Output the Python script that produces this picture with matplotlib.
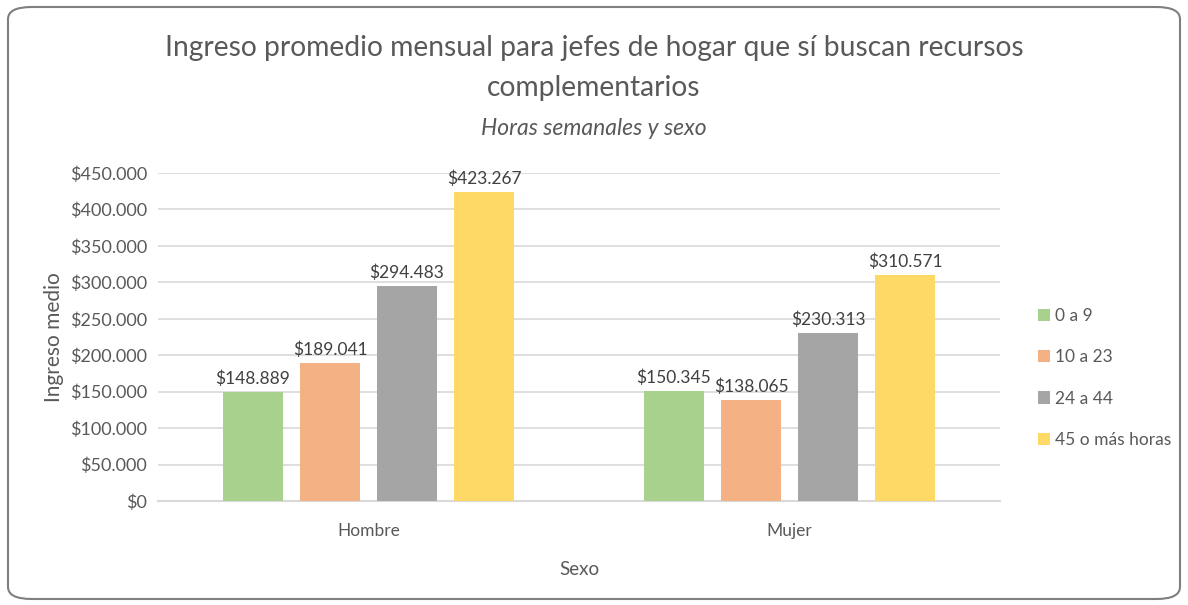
import numpy as np
import matplotlib.pyplot as plt
from matplotlib.patches import FancyBboxPatch
from matplotlib.ticker import FuncFormatter

plt.rcParams['font.family'] = ['Lato', 'DejaVu Sans']

# --- data ---
sexo = ["Hombre", "Mujer"]
horas = ["0 a 9", "10 a 23", "24 a 44", "45 o más horas"]
ingreso_0_9 = [148889, 150345]
ingreso_10_23 = [189041, 138065]
ingreso_24_44 = [294483, 230313]
ingreso_45_mas = [423267, 310571]
series = [ingreso_0_9, ingreso_10_23, ingreso_24_44, ingreso_45_mas]
colores = ["#A9D18E", "#F4B183", "#A5A5A5", "#FFD966"]

def miles(v):
    return "$" + f"{int(round(v)):,}".replace(",", ".")

fig = plt.figure(figsize=(11.88, 6.05), dpi=100)

# rounded chart border
borde = FancyBboxPatch((8 / 1188, 6 / 605), 1172 / 1188, 592 / 605,
                       boxstyle="round,pad=0,rounding_size=0.02",
                       transform=fig.transFigure, facecolor="none",
                       edgecolor="#7F7F7F", linewidth=1.5, zorder=5)
fig.patches.append(borde)

ax = fig.add_axes([158 / 1188, 1 - 501 / 605, 842 / 1188, (501 - 173) / 605])
ax.set_facecolor("none")

x = np.arange(len(sexo))
ancho = 0.142
paso = 0.183
for i, (vals, col, lab) in enumerate(zip(series, colores, horas)):
    pos = x + (i - 1.5) * paso
    barras = ax.bar(pos, vals, width=ancho, color=col, label=lab, zorder=3)
    for b, v in zip(barras, vals):
        ax.text(b.get_x() + b.get_width() / 2, v + 7000, miles(v),
                ha="center", va="bottom", fontsize=12.5, color="#404040")

ax.set_xlim(-0.5, 1.5)
ax.set_ylim(0, 450000)
ax.set_yticks(np.arange(0, 450001, 50000))
ax.yaxis.set_major_formatter(FuncFormatter(lambda v, p: miles(v)))
ax.set_xticks(x)
ax.set_xticklabels(sexo)
ax.grid(axis="y", color="#D9D9D9", linewidth=1.2, zorder=0)
for s in ["top", "right", "left"]:
    ax.spines[s].set_visible(False)
ax.spines["bottom"].set_color("#D9D9D9")
ax.spines["bottom"].set_linewidth(1.5)
ax.tick_params(length=0, labelsize=13, labelcolor="#595959")
ax.tick_params(axis="x", pad=16, labelsize=12.5)
ax.tick_params(axis="y", pad=8)

ax.set_ylabel("Ingreso medio", fontsize=15, color="#595959", labelpad=4)
ax.set_xlabel("Sexo", fontsize=13.5, color="#595959", labelpad=16)

fig.text(0.5, 1 - 48 / 605, "Ingreso promedio mensual para jefes de hogar que sí buscan recursos",
         ha="center", va="center", fontsize=20.3, color="#595959")
fig.text(0.5, 1 - 88 / 605, "complementarios",
         ha="center", va="center", fontsize=20.3, color="#595959")
fig.text(0.5, 1 - 128 / 605, "Horas semanales y sexo",
         ha="center", va="center", fontsize=16.5, style="italic", color="#595959")

fig.legend(loc="center left", bbox_to_anchor=(1022 / 1188, 1 - 378 / 605),
           frameon=False, fontsize=12.5, labelcolor="#595959",
           handlelength=0.7, handleheight=0.7, handletextpad=0.3,
           labelspacing=1.45)

fig.savefig("out.png", dpi=100)
